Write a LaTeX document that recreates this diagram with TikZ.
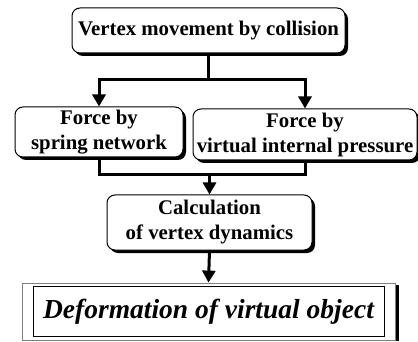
\documentclass[tikz,border=0pt]{standalone}
\usepackage{fontspec}
\setmainfont{Liberation Serif}
\usetikzlibrary{arrows.meta,shadows,calc}
\tikzset{
  box/.style={draw, line width=1pt, rounded corners=8pt, fill=white, align=center,
    font=\fontsize{20.8}{25}\selectfont\bfseries, inner sep=0pt,
    drop shadow={shadow xshift=3pt, shadow yshift=-3pt, opacity=1, fill=black}},
  conn/.style={line width=3pt},
  arr/.style={conn, -{Triangle[width=13pt,length=12pt]}},
  outerframe/.style={draw=gray, line width=0.8pt, fill=white},
  innerframe/.style={draw, line width=0.8pt, inner sep=0pt,
    font=\fontsize{27.5}{30}\selectfont\bfseries\itshape}
}
\begin{document}
\begin{tikzpicture}[x=1pt,y=-1pt]
\useasboundingbox (0,0) rectangle (418,342);
\node[box, minimum width=273pt, minimum height=45pt] (top) at (208.5,30.5) {Vertex movement by collision};
\node[box, minimum width=168pt, minimum height=50pt] (left) at (99,132) {Force by\\spring network};
\node[box, minimum width=224pt, minimum height=51pt] (right) at (305,134.5) {Force by\\virtual internal pressure};
\node[box, minimum width=205pt, minimum height=55pt] (calc) at (209.5,222.5) {Calculation\\of vertex dynamics};
\fill[black] (395,285) rectangle (399,341);
\node[outerframe, minimum width=373pt, minimum height=57pt] (final) at (208.5,311.5) {};
\node[innerframe, minimum width=351pt, minimum height=50pt] (finalin) at (208.5,311.5) {Deformation of virtual object};
\coordinate (j1) at (top.south |- 0,80);
\coordinate (j2) at (calc.north |- 0,175);
\draw[conn] (top.south) -- (j1);
\draw[arr] (j1) -| (left.north);
\draw[arr] (j1) -| (right.north);
\draw[conn, line join=miter] (left.south) -- (left.south |- j2) -- (right.south |- j2) -- (right.south);
\draw[arr] (j2) -- (calc.north);
\draw[arr] (calc.south) -- (final.north);
\end{tikzpicture}
\end{document}
